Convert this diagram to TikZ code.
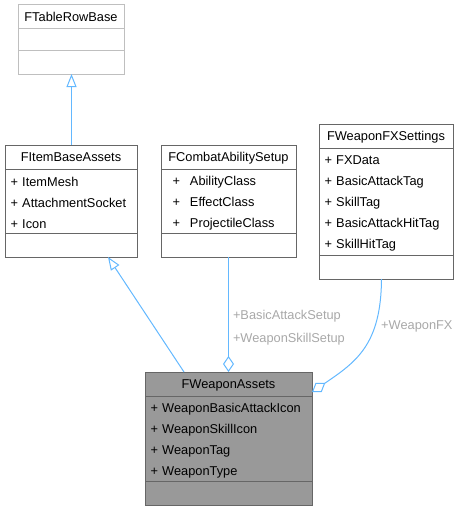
\documentclass[tikz,border=0pt]{standalone}
\usepackage{fontspec}
\setmainfont{Liberation Sans}
\usetikzlibrary{positioning,arrows.meta}

\definecolor{edgeblue}{HTML}{63B8FF}
\definecolor{boxline}{HTML}{666666}
\definecolor{lightline}{HTML}{BFBFBF}
\definecolor{labelgray}{HTML}{A8A8A8}
\definecolor{selfill}{HTML}{999999}

\begin{document}
\begin{tikzpicture}[
        x=1pt, y=-1pt,
        font=\fontsize{12.8}{21}\selectfont,
        box/.style={draw=boxline, line width=1pt, outer sep=0pt, inner sep=0pt, minimum height=24pt},
        head/.style={box, anchor=north west, text depth=0pt},
        fields/.style={box, align=left, inner xsep=5.5pt, execute at begin node=\rule{0pt}{13pt}},
        edge/.style={draw=edgeblue, line width=1pt},
        lbl/.style={text=labelgray, font=\fontsize{12.8}{23}\selectfont, align=left, inner sep=0pt, text depth=0pt},
        gen/.style={edge, -{Triangle[open, length=13pt, width=10pt]}},
        agg/.style={edge, {Diamond[open, length=16pt, width=11pt]}-}
    ]
            \useasboundingbox (0,0) rectangle (461,511);

            % base of the item assets
            \node[head, draw=lightline, minimum width=106pt] (trb) at (18,5) {FTableRowBase};
            \node[box, draw=lightline, minimum width=106pt, minimum height=22pt, below=0pt of trb] (trb-f) {};
            \node[box, draw=lightline, minimum width=106pt, minimum height=23pt, below=0pt of trb-f] (trb-o) {};

            % item assets
            \node[head, minimum width=132pt] (ib) at (5,145) {FItemBaseAssets};
            \node[fields, text width=121pt, minimum height=64pt, below=0pt of ib] (ib-f) {%
                +~ItemMesh\\
                +~AttachmentSocket\\
                +~Icon};
            \node[box, minimum width=132pt, below=0pt of ib-f] (ib-o) {};

            % ability setup
            \node[head, minimum width=135pt] (ca) at (161,145) {FCombatAbilitySetup};
            \node[fields, inner xsep=11.5pt, text width=112pt, minimum height=64pt, below=0pt of ca] (ca-f) {%
                +\hspace{10pt}AbilityClass\\
                +\hspace{10pt}EffectClass\\
                +\hspace{10pt}ProjectileClass};
            \node[box, minimum width=135pt, below=0pt of ca-f] (ca-o) {};

            % fx settings
            \node[head, minimum width=134pt] (fx) at (319,124) {FWeaponFXSettings};
            \node[fields, text width=123pt, minimum height=107pt, below=0pt of fx] (fx-f) {%
                +~FXData\\
                +~BasicAttackTag\\
                +~SkillTag\\
                +~BasicAttackHitTag\\
                +~SkillHitTag};
            \node[box, minimum width=134pt, below=0pt of fx-f] (fx-o) {};

            % weapon assets
            \node[head, fill=selfill, minimum width=167pt] (wa) at (145,372) {FWeaponAssets};
            \node[fields, fill=selfill, text width=156pt, minimum height=85pt, below=0pt of wa] (wa-f) {%
                +~WeaponBasicAttackIcon\\
                +~WeaponSkillIcon\\
                +~WeaponTag\\
                +~WeaponType};
            \node[box, fill=selfill, minimum width=167pt, below=0pt of wa-f] (wa-o) {};

            \path
            ([xshift=0.5pt]ib.north)    edge[gen] ([xshift=0.5pt]trb-o.south)
            ([xshift=-44.5pt]wa.north)  edge[gen] ([xshift=37pt]ib-o.south);

            \draw[agg] (wa.north) -- (ca-o.south)
                node[lbl, pos=0.40, anchor=west, xshift=4pt] (ca-lbl) {+BasicAttackSetup\\+WeaponSkillSetup};

            \draw[agg] ([yshift=-20pt]wa.north east)
                .. controls (356,362) and (381,345) .. ([xshift=-4.5pt]fx-o.south);
            \node[lbl, anchor=west] (fx-lbl) at (381,325) {+WeaponFX};
        \end{tikzpicture}
\end{document}
